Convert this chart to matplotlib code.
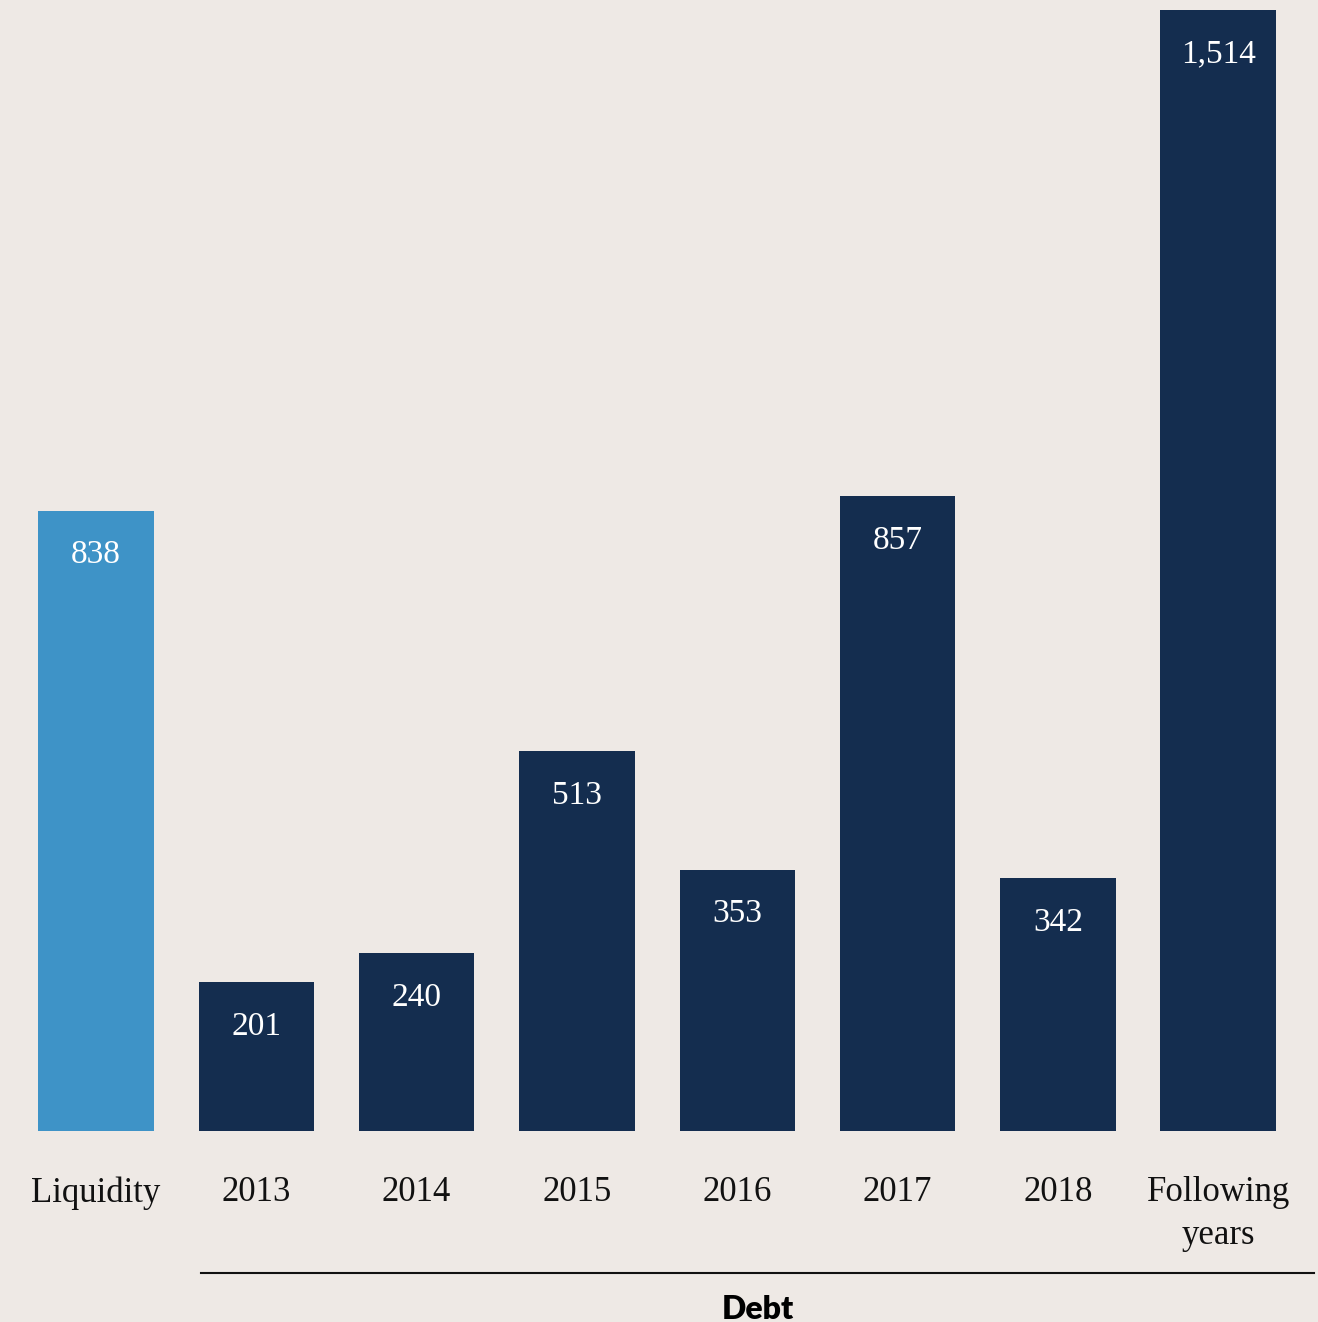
import matplotlib.pyplot as plt
from matplotlib.lines import Line2D

categories = ["Liquidity", "2013", "2014", "2015", "2016", "2017", "2018", "Following\nyears"]
values = [838, 201, 240, 513, 353, 857, 342, 1514]
value_labels = ["838", "201", "240", "513", "353", "857", "342", "1,514"]
group_label = "Debt"

bg = "#EEE9E5"
light_blue = "#3E93C7"
navy = "#142D4F"
colors = [light_blue] + [navy] * (len(values) - 1)

fig = plt.figure(figsize=(13.18, 13.22), dpi=100, facecolor=bg)
W, H = 1318, 1322
bottom_px, top_px = 1131, 10
ax = fig.add_axes([0, (H - bottom_px) / H, 1, (bottom_px - top_px) / H])
ax.set_facecolor(bg)

x = list(range(len(values)))
ax.bar(x, values, width=0.72, color=colors)
ax.set_xlim(-0.599, 7.623)
ax.set_ylim(0, max(values))
ax.axis("off")

serif = ["Liberation Serif", "DejaVu Serif"]

# value labels inside the top of each bar
for xi, v, lab in zip(x, values, value_labels):
    ax.annotate(lab, xy=(xi, v), xytext=(0, -38), textcoords="offset points",
                ha="center", va="baseline", color="white", fontsize=24, family=serif)

# category labels under the bars (top-aligned so two-line labels hang down)
for xi, cat in zip(x, categories):
    ax.annotate(cat, xy=(xi, 0), xytext=(0, -32.5), textcoords="offset points",
                ha="center", va="top", color="#111111", fontsize=25,
                family=serif, linespacing=1.4, annotation_clip=False)

# bracket line grouping the debt years
fig.add_artist(Line2D([201 / W, 1314 / W], [1 - 1273 / H, 1 - 1273 / H],
                      color="#111111", linewidth=1.5))
fig.text(758 / W, 1 - 1319 / H, group_label, ha="center", va="baseline",
         fontsize=23, fontweight="heavy", family=["Lato", "Liberation Sans", "DejaVu Sans"],
         color="black")

fig.savefig("out.png", dpi=100, facecolor=bg)
